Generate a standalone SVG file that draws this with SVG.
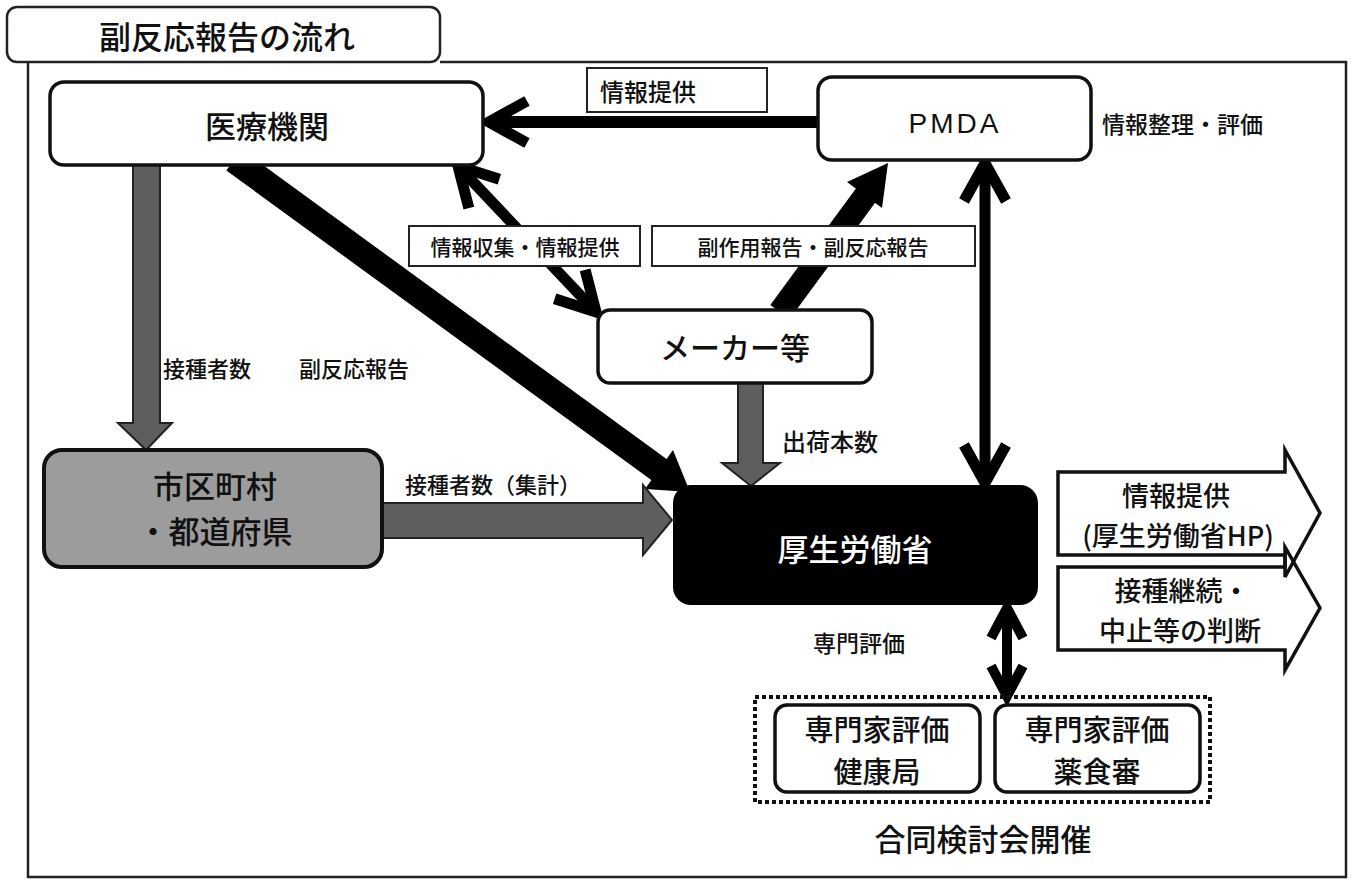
<svg xmlns="http://www.w3.org/2000/svg" width="1353" height="887" viewBox="0 0 1353 887">
<style>
.t{font-family:"Noto Sans CJK JP","Noto Sans",sans-serif;fill:#111;dominant-baseline:central;text-anchor:middle;font-weight:500}
.node{fill:#fff;stroke:#111;stroke-width:3.5}
.lbl{fill:#fff;stroke:#222;stroke-width:2}
.garrow{fill:#5e5e5e;stroke:#222;stroke-width:2;stroke-linejoin:miter}
.line{fill:none;stroke:#000;stroke-linecap:butt}
.fill{fill:#000;stroke:none}
.block{fill:none;stroke:#111;stroke-width:3.5;stroke-linejoin:miter}
</style>
<defs>
<marker id="open" markerUnits="userSpaceOnUse" orient="auto-start-reverse" refX="0" refY="0" markerWidth="60" markerHeight="60" viewBox="-45 -30 60 60" overflow="visible">
<path d="M-38,-21 L0,0 L-38,21" fill="none" stroke="#000" stroke-width="11" stroke-linejoin="miter" stroke-miterlimit="10"/>
</marker>
<marker id="openS" markerUnits="userSpaceOnUse" orient="auto-start-reverse" refX="0" refY="0" markerWidth="60" markerHeight="60" viewBox="-45 -30 60 60" overflow="visible">
<path d="M-30,-16 L0,0 L-30,16" fill="none" stroke="#000" stroke-width="10" stroke-linejoin="miter" stroke-miterlimit="10"/>
</marker>
</defs>
<rect width="1353" height="887" fill="#fff"/>

<g id="frame">
<path d="M440,62 H1346 V877 H28 V62" fill="none" stroke="#222" stroke-width="2.5"/>
</g>
<g id="title">
<rect x="7" y="7" width="433" height="55" rx="10" fill="#fff" stroke="#222" stroke-width="2.5"/>
<text class="t" x="227" y="35" font-size="32">副反応報告の流れ</text>
</g>

<g id="connectors">
<line class="line" x1="818" y1="122" x2="489" y2="122" stroke-width="12" marker-end="url(#open)"/>
<line class="line" x1="458" y1="166" x2="596" y2="312" stroke-width="11" marker-start="url(#open)" marker-end="url(#open)"/>
<line class="line" x1="780" y1="312" x2="866" y2="195" stroke-width="24"/>
<polygon class="fill" points="888,163 882,208 847,182"/>
<line class="line" x1="985" y1="163" x2="985" y2="483" stroke-width="11" marker-start="url(#open)" marker-end="url(#open)"/>
<line class="line" x1="1007" y1="608" x2="1007" y2="696" stroke-width="10" marker-start="url(#openS)" marker-end="url(#openS)"/>
<line class="line" x1="234" y1="160" x2="661" y2="471" stroke-width="26"/>
<polygon class="fill" points="690,492 645,489 673,450"/>
<polygon class="garrow" points="133,165 160,165 160,423 172,423 146,450 118,423 133,423"/>
<polygon class="garrow" points="382,503 643,503 643,485 672,520 643,555 643,538 382,538"/>
<polygon class="garrow" points="738,383 763,383 763,463 780,463 751,486 722,463 738,463"/>
</g>

<g id="edge-labels">
<g id="lbl-info">
<rect class="lbl" x="587" y="68" width="180" height="44"/>
<text class="t" x="600" y="90" font-size="24" style="text-anchor:start">情報提供</text>
</g>
<g id="lbl-collect">
<rect class="lbl" x="409" y="226" width="231" height="40"/>
<text class="t" x="525" y="246" font-size="21">情報収集・情報提供</text>
</g>
<g id="lbl-report">
<rect class="lbl" x="652" y="226" width="323" height="40"/>
<text class="t" x="813" y="246" font-size="21">副作用報告・副反応報告</text>
</g>
<text class="t" x="207" y="367" font-size="22">接種者数</text>
<text class="t" x="354" y="367" font-size="22">副反応報告</text>
<text class="t" x="493" y="483" font-size="22">接種者数（集計）</text>
<text class="t" x="782" y="440" font-size="24" style="text-anchor:start">出荷本数</text>
<text class="t" x="813" y="642" font-size="23" style="text-anchor:start">専門評価</text>
<text class="t" x="1102" y="123" font-size="23" style="text-anchor:start">情報整理・評価</text>
</g>

<g id="node-iryo">
<rect class="node" x="50" y="82" width="433" height="83" rx="14"/>
<text class="t" x="267" y="124" font-size="31">医療機関</text>
</g>
<g id="node-pmda">
<rect class="node" x="818" y="77" width="273" height="83" rx="14"/>
<text x="955" y="123" font-size="28" style="font-family:'Liberation Sans',Arial,sans-serif;text-anchor:middle;dominant-baseline:central;letter-spacing:3px" fill="#111">PMDA</text>
</g>
<g id="node-maker">
<rect class="node" x="598" y="310" width="274" height="73" rx="12"/>
<text class="t" x="735" y="346" font-size="30">メーカー等</text>
</g>
<g id="node-shiku">
<rect x="44" y="450" width="338" height="117" rx="18" fill="#9c9c9c" stroke="#111" stroke-width="4"/>
<text class="t" x="215" y="484" font-size="31">市区町村</text>
<text class="t" x="215" y="529" font-size="31">・都道府県</text>
</g>
<g id="node-mhlw">
<rect x="673" y="485" width="365" height="120" rx="18" fill="#000"/>
<text class="t" x="855" y="547" font-size="31" style="fill:#fff">厚生労働省</text>
</g>
<g id="node-out1">
<polygon class="block" points="1058,472 1285,472 1285,450 1320,513 1285,577 1285,555 1058,555"/>
<text class="t" x="1176" y="494" font-size="27">情報提供</text>
<text class="t" x="1178" y="534" font-size="27">(厚生労働省HP)</text>
</g>
<g id="node-out2">
<polygon class="block" points="1058,567 1285,567 1285,547 1320,608 1285,670 1285,650 1058,650"/>
<text class="t" x="1182" y="589" font-size="27">接種継続・</text>
<text class="t" x="1180" y="629" font-size="27">中止等の判断</text>
</g>
<g id="node-joint">
<rect x="755" y="697" width="455" height="105" fill="none" stroke="#111" stroke-width="4" stroke-dasharray="4 3"/>
<g id="node-kenko">
<rect class="node" x="775" y="705" width="205" height="87" rx="12" stroke-width="3"/>
<text class="t" x="877" y="728" font-size="29">専門家評価</text>
<text class="t" x="877" y="770" font-size="29">健康局</text>
</g>
<g id="node-yakushoku">
<rect class="node" x="995" y="705" width="205" height="87" rx="12" stroke-width="3"/>
<text class="t" x="1097" y="728" font-size="29">専門家評価</text>
<text class="t" x="1097" y="770" font-size="29">薬食審</text>
</g>
<text class="t" x="983" y="837" font-size="31">合同検討会開催</text>
</g>
</svg>
